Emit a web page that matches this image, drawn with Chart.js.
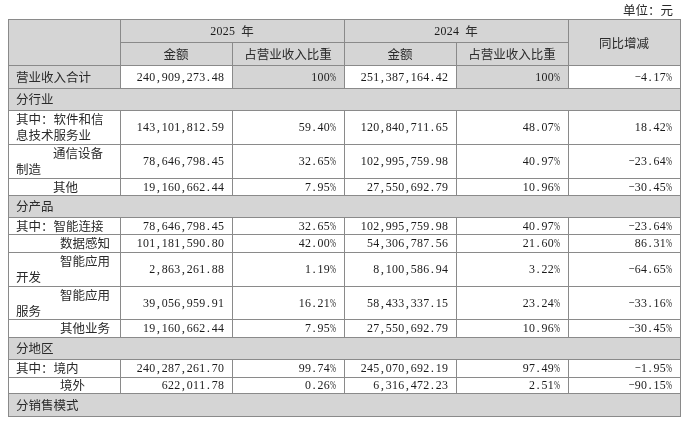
<!DOCTYPE html>
<html><head><meta charset="utf-8">
<script src="https://cdn.jsdelivr.net/npm/chart.js@4.4.1/dist/chart.umd.min.js"></script>
<style>html,body{margin:0;padding:0;background:#fff;}#wrap{width:700px;height:421px;position:relative;}</style>
</head><body><div id="wrap"><canvas id="c"></canvas></div>
<script>
// ---- text / data ----
const unitNote = '单位：元';
const yearLabels = ['2025 年', '2024 年'];
const subHeaders = ['金额', '占营业收入比重', '金额', '占营业收入比重'];
const yoyHeader = '同比增减';
const rowLabels = [
  ['营业收入合计'],
  ['分行业'],
  ['其中：软件和信', '息技术服务业'],
  ['通信设备', '制造'],
  ['其他'],
  ['分产品'],
  ['其中：智能连接'],
  ['数据感知'],
  ['智能应用', '开发'],
  ['智能应用', '服务'],
  ['其他业务'],
  ['分地区'],
  ['其中：境内'],
  ['境外'],
  ['分销售模式']
];
const amount2025 = [240909273.48, null, 143101812.59, 78646798.45, 19160662.44, null, 78646798.45, 101181590.80, 2863261.88, 39056959.91, 19160662.44, null, 240287261.70, 622011.78, null];
const share2025 = [100, null, 59.40, 32.65, 7.95, null, 32.65, 42.00, 1.19, 16.21, 7.95, null, 99.74, 0.26, null];
const amount2024 = [251387164.42, null, 120840711.65, 102995759.98, 27550692.79, null, 102995759.98, 54306787.56, 8100586.94, 58433337.15, 27550692.79, null, 245070692.19, 6316472.23, null];
const share2024 = [100, null, 48.07, 40.97, 10.96, null, 40.97, 21.60, 3.22, 23.24, 10.96, null, 97.49, 2.51, null];
const yoyChange = [-4.17, null, 18.42, -23.64, -30.45, null, -23.64, 86.31, -64.65, -33.16, -30.45, null, -1.95, -90.15, null];

// ---- layout / style ----
const colWidths = [112, 112, 112, 112, 112, 112];
const headerHeights = [23, 23];
const rowHeights = [23, 22, 34, 34, 17, 22, 17, 18, 34, 33, 18, 22, 18, 16, 23];
const labelIndents = [[8], [8], [8, 8], [45, 8], [45], [8], [8], [52], [52, 8], [52, 8], [52], [8], [8], [52], [8]];
const totalRowShade = [true, false, true, false, true, false];
const FS = 12.5;
const GRAY = '#d5d5d5';
const LINE = '#8a8a8a';
const TEXT = '#1a1a1a';
const CJK_TEXT = '#2a2a2a';

const colEdges = [0]; colWidths.forEach(w => colEdges.push(colEdges[colEdges.length - 1] + w));
const allHeights = headerHeights.concat(rowHeights);
const rowEdges = [0]; allHeights.forEach(h => rowEdges.push(rowEdges[rowEdges.length - 1] + h));
const totalW = colEdges[colEdges.length - 1];
const totalH = rowEdges[rowEdges.length - 1];

function fmtAmount(v) { return v.toLocaleString('en-US', { minimumFractionDigits: 2, maximumFractionDigits: 2 }); }
function fmtPct(v) { const s = (v === 100 ? '100' : Math.abs(v).toFixed(2)) + '%'; return v < 0 ? '−' + s : s; }

function drawMono(ctx, text, x, y, align) {
  const chars = [...text];
  const w = chars.map(ch => ch.charCodeAt(0) > 0x2e80 ? FS : FS / 2);
  const total = w.reduce((a, b) => a + b, 0);
  let start = align === 'right' ? x - total : align === 'center' ? x - total / 2 : x;
  ctx.textAlign = 'center';
  ctx.textBaseline = 'middle';
  chars.forEach((ch, i) => {
    const full = w[i] === FS;
    ctx.font = full ? `${FS}px "Noto Sans CJK SC"` : `${FS + 0.5}px "Liberation Serif"`;
    ctx.fillStyle = full ? CJK_TEXT : TEXT;
    if (full) ctx.fillText(ch, start + w[i] / 2, y);
    else ctx.fillText(ch, start + w[i] / 2, y + 0.5, w[i] - 0.3);
    start += w[i];
  });
}

const tablePlugin = {
  id: 'tablePlugin',
  afterDatasetsDraw(chart) {
    const ctx = chart.ctx;
    const xs = chart.scales.x, ys = chart.scales.y;
    const X = v => xs.getPixelForValue(v);
    const Y = v => ys.getPixelForValue(v);
    const cells = [];
    cells.push({ c0: 0, c1: 1, r0: 0, r1: 2, text: '', fill: GRAY, align: 'center' });
    cells.push({ c0: 1, c1: 3, r0: 0, r1: 1, text: yearLabels[0], fill: GRAY, align: 'center' });
    cells.push({ c0: 3, c1: 5, r0: 0, r1: 1, text: yearLabels[1], fill: GRAY, align: 'center' });
    cells.push({ c0: 5, c1: 6, r0: 0, r1: 2, text: yoyHeader, fill: GRAY, align: 'center' });
    subHeaders.forEach((t, i) => cells.push({ c0: i + 1, c1: i + 2, r0: 1, r1: 2, text: t, fill: GRAY, align: 'center' }));
    rowLabels.forEach((lines, i) => {
      const r = i + 2;
      if (amount2025[i] === null) {
        cells.push({ c0: 0, c1: 6, r0: r, r1: r + 1, lines, indents: labelIndents[i], fill: GRAY, align: 'left' });
        return;
      }
      const vals = [null, fmtAmount(amount2025[i]), fmtPct(share2025[i]), fmtAmount(amount2024[i]), fmtPct(share2024[i]), fmtPct(yoyChange[i])];
      vals.forEach((t, c) => {
        const fill = (i === 0 && totalRowShade[c]) ? GRAY : '#ffffff';
        if (c === 0) cells.push({ c0: 0, c1: 1, r0: r, r1: r + 1, lines, indents: labelIndents[i], fill, align: 'left' });
        else cells.push({ c0: c, c1: c + 1, r0: r, r1: r + 1, text: t, fill, align: 'right' });
      });
    });
    ctx.save();
    cells.forEach(cl => {
      const x0 = X(colEdges[cl.c0]), x1 = X(colEdges[cl.c1]);
      const y0 = Y(rowEdges[cl.r0]), y1 = Y(rowEdges[cl.r1]);
      ctx.fillStyle = cl.fill;
      ctx.fillRect(x0, y0, x1 - x0, y1 - y0);
    });
    ctx.strokeStyle = LINE;
    ctx.lineWidth = 1;
    cells.forEach(cl => {
      const x0 = Math.round(X(colEdges[cl.c0])) + 0.5, x1 = Math.round(X(colEdges[cl.c1])) + 0.5;
      const y0 = Math.round(Y(rowEdges[cl.r0])) + 0.5, y1 = Math.round(Y(rowEdges[cl.r1])) + 0.5;
      ctx.strokeRect(x0, y0, x1 - x0, y1 - y0);
    });
    cells.forEach(cl => {
      const x0 = X(colEdges[cl.c0]), x1 = X(colEdges[cl.c1]);
      const yTop = Y(rowEdges[cl.r0]), yBot = Y(rowEdges[cl.r1]);
      const yc = (yTop + yBot) / 2;
      if (cl.lines) {
        if (cl.lines.length === 1) drawMono(ctx, cl.lines[0], x0 + cl.indents[0], yc + 0.5, 'left');
        else {
          drawMono(ctx, cl.lines[0], x0 + cl.indents[0], yc - 7.5, 'left');
          drawMono(ctx, cl.lines[1], x0 + cl.indents[1], yc + 8.5, 'left');
        }
      } else if (cl.text) {
        if (cl.align === 'center') drawMono(ctx, cl.text, (x0 + x1) / 2, yc + 1, 'center');
        else drawMono(ctx, cl.text, x1 - 8, yc + 0.5, 'right');
      }
    });
    drawMono(ctx, unitNote, X(totalW) - 7, Y(0) - 9, 'right');
    ctx.restore();
  }
};

new Chart(document.getElementById('c'), {
  type: 'scatter',
  data: { datasets: [{ data: [] }] },
  options: {
    responsive: true,
    maintainAspectRatio: false,
    animation: false,
    layout: { padding: { left: 8, right: 20, top: 19, bottom: 5 } },
    scales: {
      x: { type: 'linear', min: 0, max: totalW, display: false },
      y: { type: 'linear', min: 0, max: totalH, reverse: true, display: false }
    },
    plugins: { legend: { display: false }, tooltip: { enabled: false } }
  },
  plugins: [tablePlugin]
});
</script>
</body></html>
